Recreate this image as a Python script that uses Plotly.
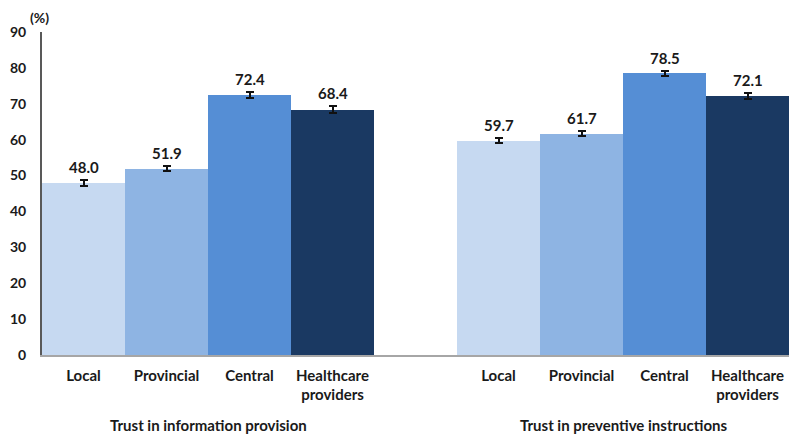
import plotly.graph_objects as go

groups = ["Trust in information provision", "Trust in preventive instructions"]
categories = ["Local", "Provincial", "Central", "Healthcare<br>providers"]
colors = ["#C6D9F1", "#8EB4E3", "#558ED5", "#1A3962"]
values_info = [48.0, 51.9, 72.4, 68.4]
values_prev = [59.7, 61.7, 78.5, 72.1]
err_info = [0.8, 0.7, 0.8, 0.9]
err_prev = [0.7, 0.6, 0.7, 0.8]
y_ticks = [0, 10, 20, 30, 40, 50, 60, 70, 80, 90]

FONT = "Lato"
all_vals = [values_info, values_prev]
all_errs = [err_info, err_prev]

fig = go.Figure()
xpos_all, tick_text = [], []
annotations = []
for gi, (vals, errs) in enumerate(zip(all_vals, all_errs)):
    offset = gi * (len(categories) + 1)
    for ci, (cat, v, e) in enumerate(zip(categories, vals, errs)):
        x = offset + ci + 0.5
        xpos_all.append(x)
        tick_text.append(cat)
        fig.add_trace(go.Bar(
            x=[x], y=[v], width=1.0,
            marker=dict(color=colors[ci], line=dict(width=0)),
            error_y=dict(type="data", array=[e], color="#111111", thickness=2, width=4),
            showlegend=False, hoverinfo="skip",
        ))
        annotations.append(dict(
            x=x, y=v + e, xref="x", yref="y", text=f"<b>{v:.1f}</b>",
            showarrow=False, yanchor="bottom", yshift=2,
            font=dict(family=FONT, size=15, color="#1a1a1a"),
        ))
    center = offset + len(categories) / 2
    annotations.append(dict(
        x=center, y=-0.217, xref="x", yref="paper", text=f"<b>{groups[gi]}</b>",
        showarrow=False, yanchor="middle",
        font=dict(family=FONT, size=15, color="#1a1a1a"),
    ))

annotations.append(dict(
    x=-0.003, y=1.046, xref="paper", yref="paper", text="<b>(%)</b>",
    showarrow=False, xanchor="center", yanchor="middle",
    font=dict(family=FONT, size=14, color="#1a1a1a"),
))

# page body has an 8px default margin, so the figure is sized/offset to fit
fig.update_layout(
    width=789, height=428,
    margin=dict(l=34, r=8, t=24, b=81),
    paper_bgcolor="white", plot_bgcolor="white",
    bargap=0,
    annotations=annotations,
    font=dict(family=FONT, color="#1a1a1a"),
    xaxis=dict(
        range=[0, 2 * len(categories) + 1],
        tickmode="array", tickvals=xpos_all,
        ticktext=[f"<b>{t}</b>" for t in tick_text],
        tickfont=dict(family=FONT, size=15, color="#1a1a1a"),
        showline=True, linecolor="#A6A6A6", linewidth=1.5,
        showgrid=False, zeroline=False, ticks="", ticklen=0,
        ticklabelstandoff=6, automargin=False,
    ),
    yaxis=dict(
        range=[0, 90],
        tickmode="array", tickvals=y_ticks,
        ticktext=[f"<b>{t}</b>" for t in y_ticks],
        tickfont=dict(family=FONT, size=14, color="#1a1a1a"),
        showline=True, linecolor="#595959", linewidth=2,
        showgrid=False, zeroline=False, ticks="",
        ticklabelstandoff=11, automargin=False,
    ),
)

fig.write_html("out.html")
